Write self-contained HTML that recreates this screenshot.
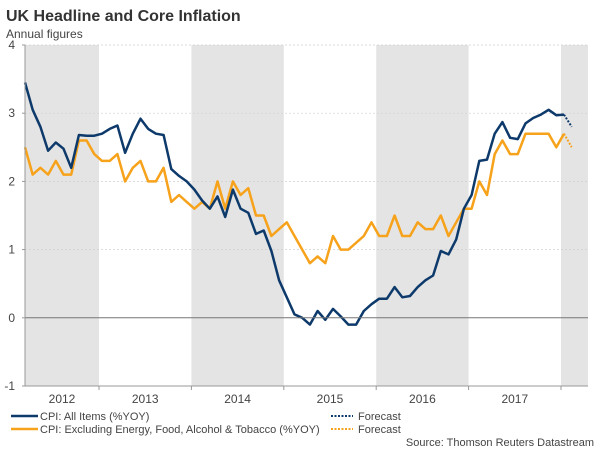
<!DOCTYPE html>
<html><head><meta charset="utf-8"><style>
body{margin:0;background:#fff;font-family:"Liberation Sans",Arial,sans-serif;}
svg text{font-family:"Liberation Sans",Arial,sans-serif;}
</style></head><body>
<svg width="600" height="450" viewBox="0 0 600 450">
<text x="6" y="21" font-size="16" font-weight="bold" fill="#333">UK Headline and Core Inflation</text>
<text x="6" y="38" font-size="12" fill="#444">Annual figures</text>
<g id="bands"></g>
<g id="grid"></g>
<g id="lines"></g>
<g id="axes"></g>
<g>
<line x1="11" y1="416" x2="38" y2="416" stroke="#0d3a6b" stroke-width="2.5"/>
<text x="40" y="420" font-size="11" fill="#444">CPI: All Items (%YOY)</text>
<line x1="11" y1="429" x2="38" y2="429" stroke="#f7a21b" stroke-width="2.5"/>
<text x="40" y="433" font-size="11" fill="#444">CPI: Excluding Energy, Food, Alcohol &amp; Tobacco (%YOY)</text>
<line x1="331" y1="416" x2="353" y2="416" stroke="#0d3a6b" stroke-width="2" stroke-dasharray="2,1.5"/>
<text x="358" y="420" font-size="11" fill="#444">Forecast</text>
<line x1="331" y1="429" x2="353" y2="429" stroke="#f7a21b" stroke-width="2" stroke-dasharray="2,1.5"/>
<text x="358" y="433" font-size="11" fill="#444">Forecast</text>
</g>
<text x="594" y="446" font-size="11" fill="#444" text-anchor="end">Source: Thomson Reuters Datastream</text>
</svg>
<script>
const years = ["2012","2013","2014","2015","2016","2017"];
const yTicks = [-1,0,1,2,3,4];
const cpiAll = [3.45,3.05,2.8,2.45,2.57,2.48,2.2,2.68,2.67,2.67,
 2.7,2.77,2.82,2.42,2.7,2.92,2.77,2.7,2.68,2.18,2.08,2.0,
 1.88,1.72,1.6,1.78,1.48,1.88,1.6,1.54,1.23,1.28,0.98,0.55,
 0.3,0.05,0.0,-0.1,0.1,-0.03,0.13,0.02,-0.1,-0.1,0.1,0.2,
 0.28,0.28,0.45,0.3,0.32,0.45,0.55,0.62,0.98,0.93,1.15,1.6,
 1.8,2.3,2.32,2.7,2.87,2.64,2.62,2.85,2.93,2.98,3.05,2.97,2.98];
const cpiAllForecast = [2.98,2.8];
const cpiCore = [2.5,2.1,2.2,2.1,2.3,2.1,2.1,2.6,2.6,2.4,
 2.3,2.3,2.4,2.0,2.2,2.3,2.0,2.0,2.2,1.7,1.8,1.7,
 1.6,1.7,1.6,2.0,1.6,2.0,1.8,1.9,1.5,1.5,1.2,1.3,
 1.4,1.2,1.0,0.8,0.9,0.8,1.2,1.0,1.0,1.1,1.2,1.4,
 1.2,1.2,1.5,1.2,1.2,1.4,1.3,1.3,1.5,1.2,1.4,1.6,
 1.6,2.0,1.8,2.4,2.6,2.4,2.4,2.7,2.7,2.7,2.7,2.5,2.7];
const coreForecast = [2.7,2.5];

const NS="http://www.w3.org/2000/svg";
const L=25,R=588,T=45,B=386;
const yearW=92.4, firstYear=99-yearW; // x of Jan 2012
const monthW=yearW/12;
const startMonth=2; // March 2012
function xMonth(i){return firstYear+(startMonth+i)*monthW+ (25-(firstYear+startMonth*monthW));}
function yv(v){return T+(4-v)*(B-T)/5;}
function mk(tag,attrs,parent){const e=document.createElementNS(NS,tag);for(const k in attrs)e.setAttribute(k,attrs[k]);document.getElementById(parent).appendChild(e);return e;}

for(let i=0;i<=7;i++){
  if(i%2===0){
    const x0=Math.max(L,firstYear+i*yearW), x1=Math.min(R,firstYear+(i+1)*yearW);
    if(x1>x0){const r=mk('rect',{x:x0,y:T,width:x1-x0,height:B-T,fill:'#e4e4e4'},'bands');
    
    }
  }
}
yTicks.forEach(v=>{
  const y=yv(v);
  if(v!==0&&v!==-1){const g=mk('line',{x1:L,x2:R,y1:y,y2:y,stroke:'#d0d0d0','stroke-width':0.7,'stroke-dasharray':'2,2'},'grid');
  
  }
  const t=mk('text',{x:15,y:y+4,'font-size':12,fill:'#444','text-anchor':'end'},'axes');t.textContent=v;
  
  
  mk('line',{x1:L-3,x2:L,y1:y,y2:y,stroke:'#999'},'axes');
});
const z=mk('line',{x1:L,x2:R,y1:yv(0),y2:yv(0),stroke:'#777','stroke-width':1},'axes');


mk('line',{x1:L,x2:L,y1:T,y2:B,stroke:'#999'},'axes');
mk('line',{x1:L,x2:R,y1:B,y2:B,stroke:'#999'},'axes');
years.forEach((yr,i)=>{
  const x0=firstYear+i*yearW;
  mk('line',{x1:x0+yearW,x2:x0+yearW,y1:B,y2:B+4,stroke:'#999'},'axes');
  const cx=(Math.max(L,x0)+x0+yearW)/2;
  const t=mk('text',{x:i===0?62:cx,y:403,'font-size':12,fill:'#444','text-anchor':'middle'},'axes');t.textContent=yr;
  
  
});
function px(i){return L+i*monthW;}
function path(arr,off,color,dash,name){
  const d=arr.map((v,i)=>(i?'L':'M')+px(i+off).toFixed(1)+','+yv(v).toFixed(1)).join('');
  const p=mk('path',{d:d,fill:'none',stroke:color,'stroke-width':dash?2:2.5,'stroke-linejoin':'round'},'lines');
  if(dash)p.setAttribute('stroke-dasharray','2,1.5');
  
  
}
path(cpiCore,0,'#f7a21b',false,'line-cpi-core');
path(cpiAll,0,'#0d3a6b',false,'line-cpi-all');
path(coreForecast,cpiCore.length-1,'#f7a21b',true,'line-core-forecast');
path(cpiAllForecast,cpiAll.length-1,'#0d3a6b',true,'line-cpi-forecast');
</script>
</body></html>
